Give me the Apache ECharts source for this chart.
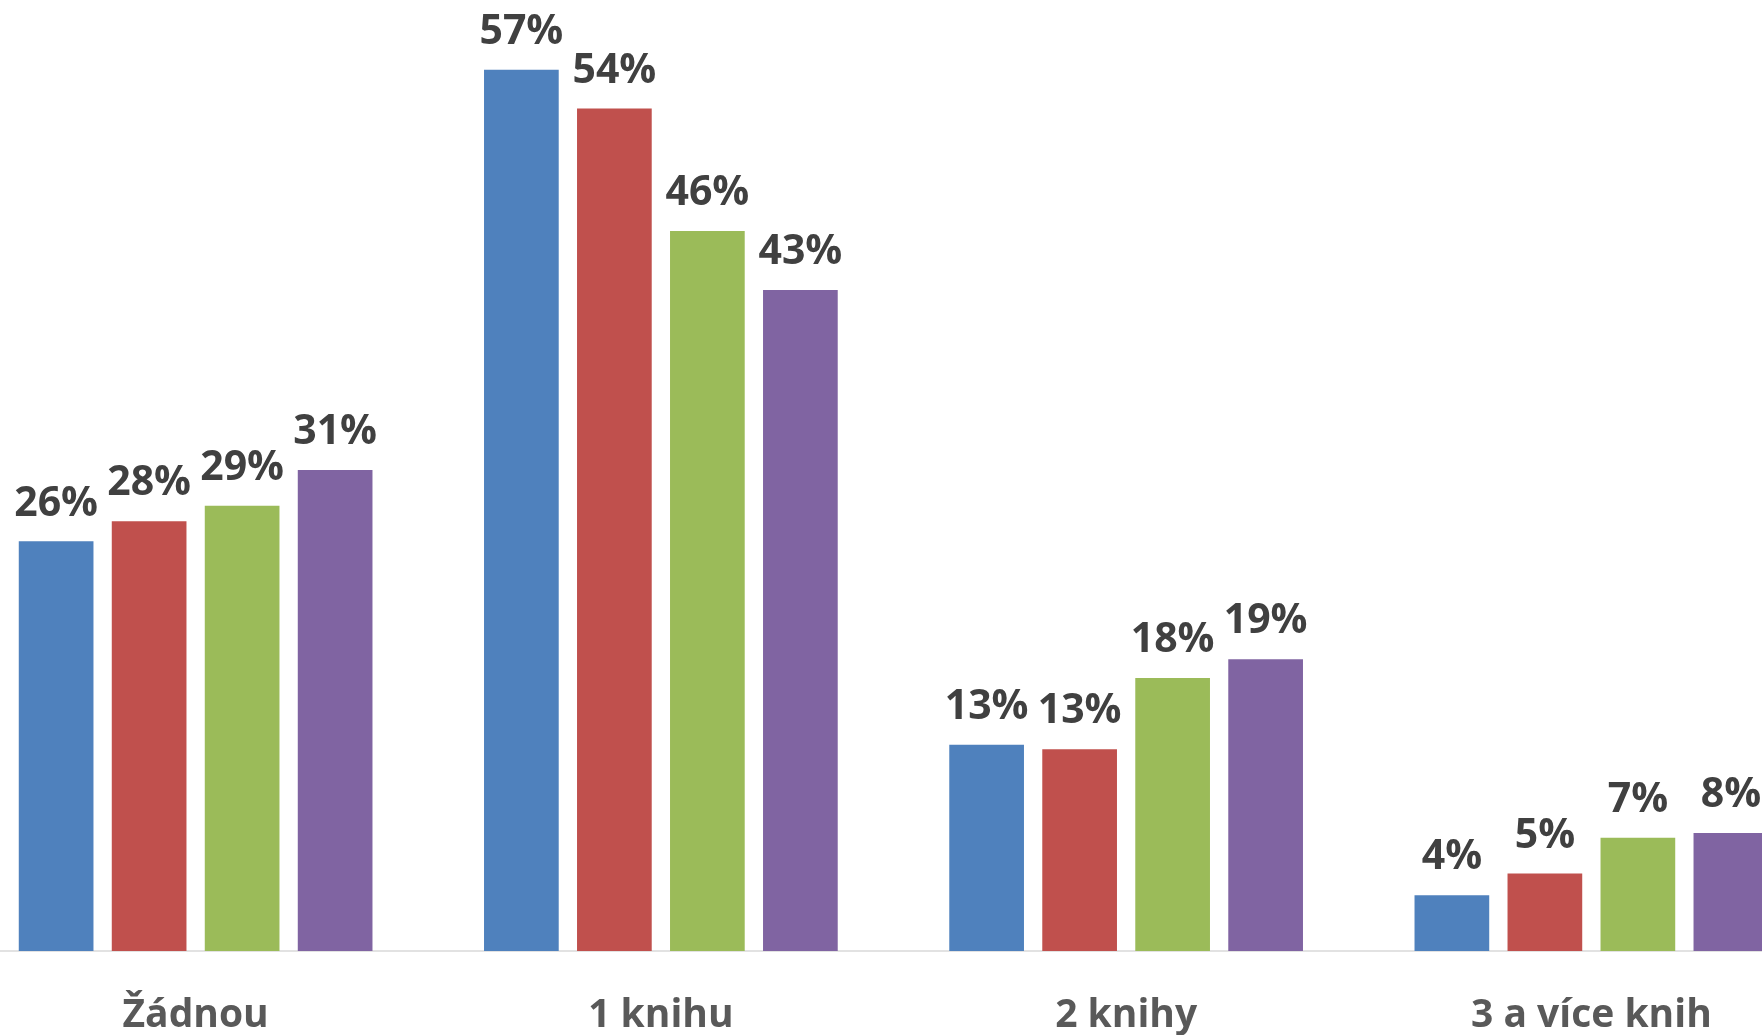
<!DOCTYPE html>
<html>
<head>
<meta charset="utf-8">
<script src="https://cdn.jsdelivr.net/npm/echarts@6/dist/echarts.min.js"></script>
<style>
html,body{margin:0;padding:0;background:#fff;overflow:hidden;width:1762px;height:1035px;position:relative;}
#chart{position:absolute;left:-37px;top:0;width:1861px;height:1035px;}
</style>
</head>
<body>
<div id="chart"></div>
<script>
const categories = ['Žádnou', '1 knihu', '2 knihy', '3 a více knih'];
const series1 = [26.4, 56.8, 13.3, 3.6];
const series2 = [27.7, 54.3, 13.0, 5.0];
const series3 = [28.7, 46.4, 17.6, 7.3];
const series4 = [31.0, 42.6, 18.8, 7.6];
const seriesNames = ['Řada 1', 'Řada 2', 'Řada 3', 'Řada 4'];
const colors = ['#4F81BD', '#C0504D', '#9BBB59', '#8064A2'];

const chart = echarts.init(document.getElementById('chart'), null, {renderer: 'canvas'});
const FONT = '"Open Sans", "Liberation Sans", sans-serif';
const mk = (name, data, color) => ({
  name: name,
  type: 'bar',
  data: data,
  barWidth: 74.7,
  barGap: '24.5%',
  itemStyle: {color: color},
  label: {
    show: true,
    position: 'top',
    distance: 17,
    color: '#404040',
    fontFamily: FONT,
    fontWeight: 'bold',
    fontSize: 41,
    formatter: p => Math.round(p.value) + '%'
  }
});
chart.setOption({
  backgroundColor: '#ffffff',
  animation: false,
  grid: {left: 0, right: 0, top: 20, bottom: 84, containLabel: false},
  xAxis: {
    type: 'category',
    data: categories,
    axisTick: {show: false},
    axisLine: {lineStyle: {color: '#D9D9D9', width: 1.5}},
    axisLabel: {
      color: '#595959',
      fontFamily: FONT,
      fontWeight: 'bold',
      fontSize: 39,
      margin: 45,
      interval: 0
    }
  },
  yAxis: {
    type: 'value',
    min: 0,
    max: 60,
    show: false,
    splitLine: {show: false}
  },
  series: [
    mk(seriesNames[0], series1, colors[0]),
    mk(seriesNames[1], series2, colors[1]),
    mk(seriesNames[2], series3, colors[2]),
    mk(seriesNames[3], series4, colors[3])
  ]
});
</script>
</body>
</html>
